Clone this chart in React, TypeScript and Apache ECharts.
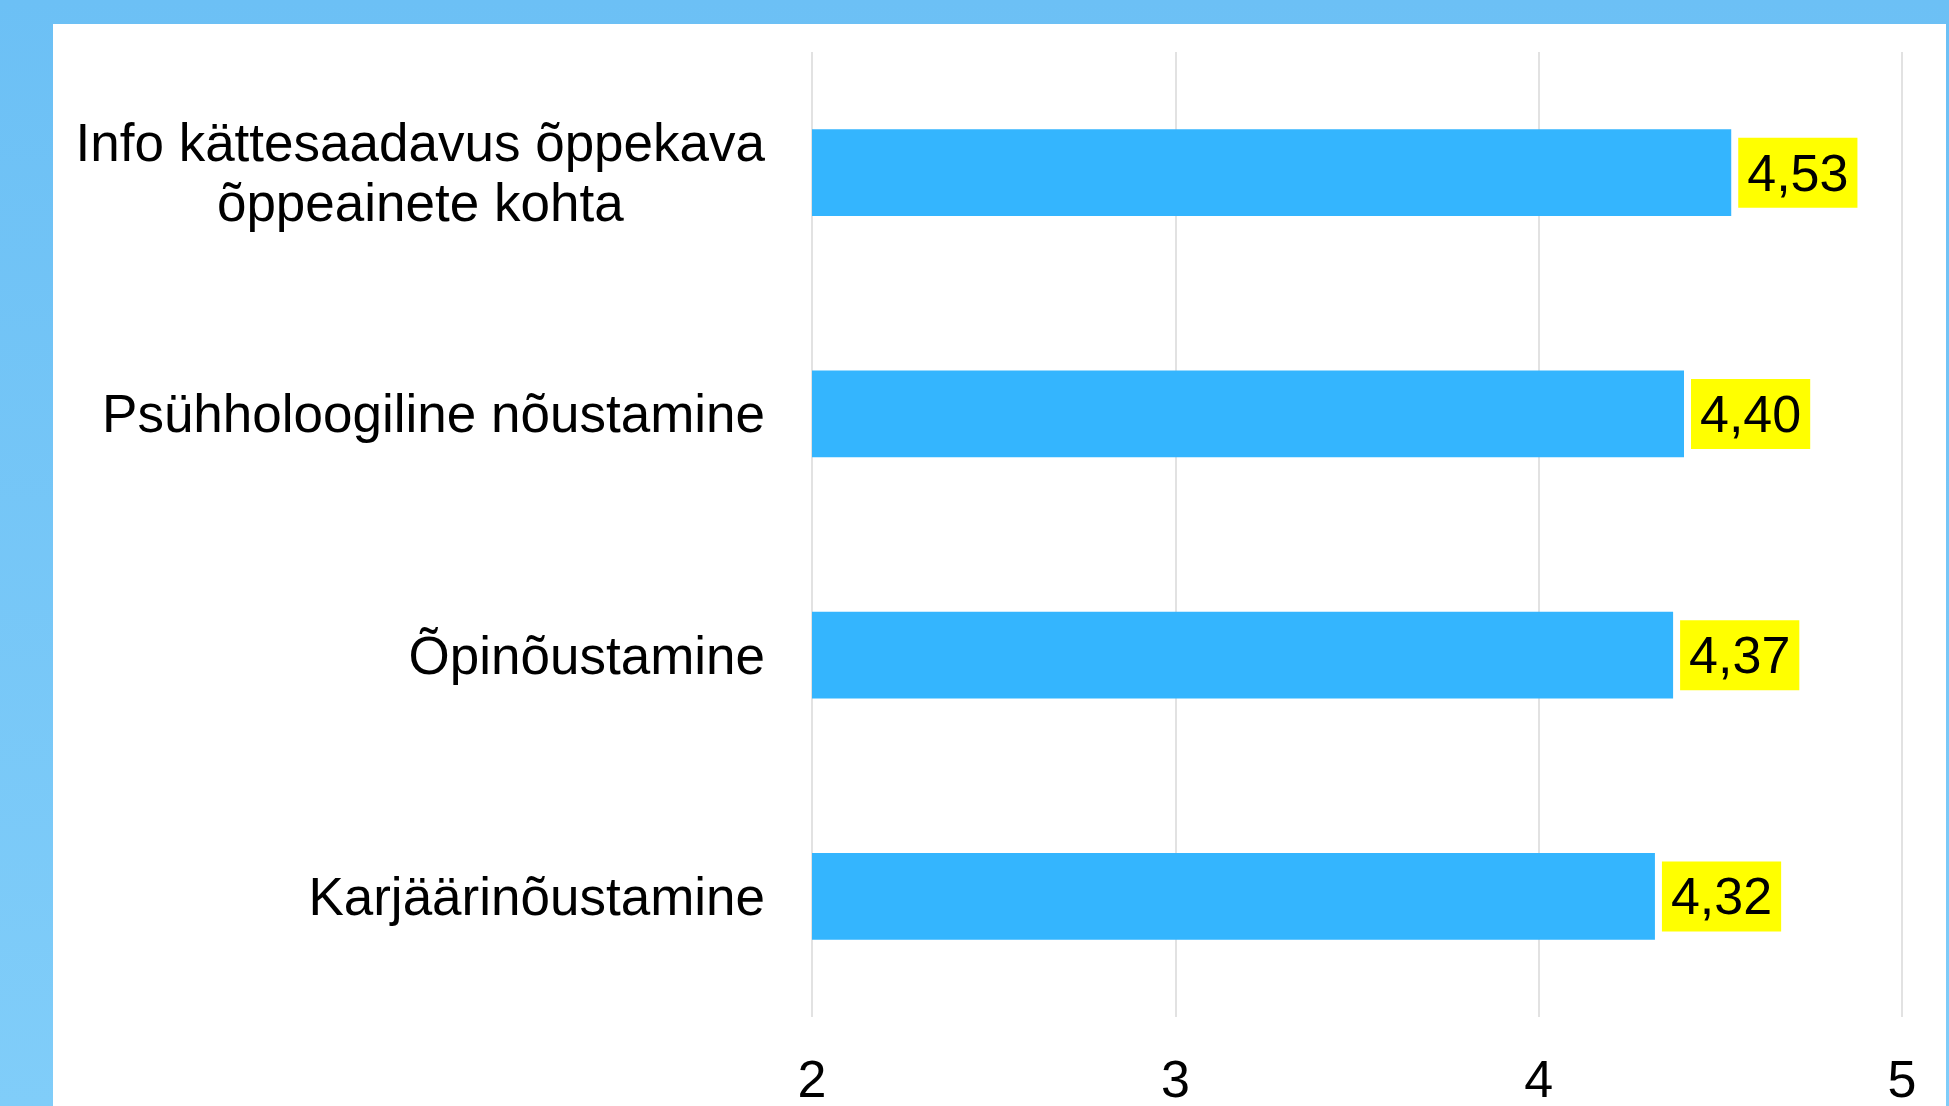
import React, { useEffect, useRef } from "react";
import * as echarts from "echarts";

const categories = [
  "Info kättesaadavus õppekava\nõppeainete kohta",
  "Psühholoogiline nõustamine",
  "Õpinõustamine",
  "Karjäärinõustamine",
];
const values = [4.53, 4.4, 4.37, 4.32];
const xTicks = [2, 3, 4, 5];

const FONT = "'Liberation Sans', Arial, sans-serif";

export default function App() {
  const ref = useRef<HTMLDivElement>(null);
  useEffect(() => {
    if (!ref.current) return;
    const chart = echarts.init(ref.current, undefined, { renderer: "svg" });
    chart.setOption({
      animation: false,
      backgroundColor: "#ffffff",
      textStyle: { fontFamily: FONT },
      grid: { left: 759, right: 44, top: 28, bottom: 89, containLabel: false },
      xAxis: {
        type: "value",
        min: xTicks[0],
        max: xTicks[xTicks.length - 1],
        interval: 1,
        axisLine: { show: false },
        axisTick: { show: false },
        splitLine: { show: true, lineStyle: { color: "#d9d9d9", width: 1.5 } },
        axisLabel: {
          fontSize: 52,
          lineHeight: 44,
          color: "#000",
          fontFamily: FONT,
          margin: 40,
          formatter: (v: number) => String(v),
        },
      },
      yAxis: {
        type: "category",
        data: categories,
        inverse: true,
        axisLine: { show: false },
        axisTick: { show: false },
        splitLine: { show: false },
        axisLabel: {
          margin: 47,
          align: "right",
          formatter: (v: string) =>
            v
              .split("\n")
              .map((l) => "{c|" + l + "}")
              .join("\n"),
          rich: {
            c: {
              fontSize: 53,
              lineHeight: 60,
              color: "#000",
              fontFamily: FONT,
              align: "center",
            },
          },
        },
      },
      series: [
        {
          type: "bar",
          data: values,
          barCategoryGap: "64%",
          itemStyle: { color: "#34b5fe" },
          label: {
            show: true,
            position: "right",
            distance: 7,
            formatter: (p: any) => p.value.toFixed(2).replace(".", ","),
            fontSize: 52,
            lineHeight: 52,
            color: "#000",
            fontFamily: FONT,
            backgroundColor: "#ffff00",
            padding: [9, 9, 9, 9],
          },
        },
      ],
    });
    return () => chart.dispose();
  }, []);
  return (
    <div
      style={{
        position: "fixed",
        left: 0,
        top: 0,
        width: 1949,
        height: 1106,
        background: "linear-gradient(180deg, #6cc0f5 0%, #80cdf9 100%)",
      }}
    >
      <div
        ref={ref}
        style={{
          position: "absolute",
          left: 53,
          top: 24,
          width: 1893,
          height: 1082,
          background: "#fff",
        }}
      />
    </div>
  );
}
